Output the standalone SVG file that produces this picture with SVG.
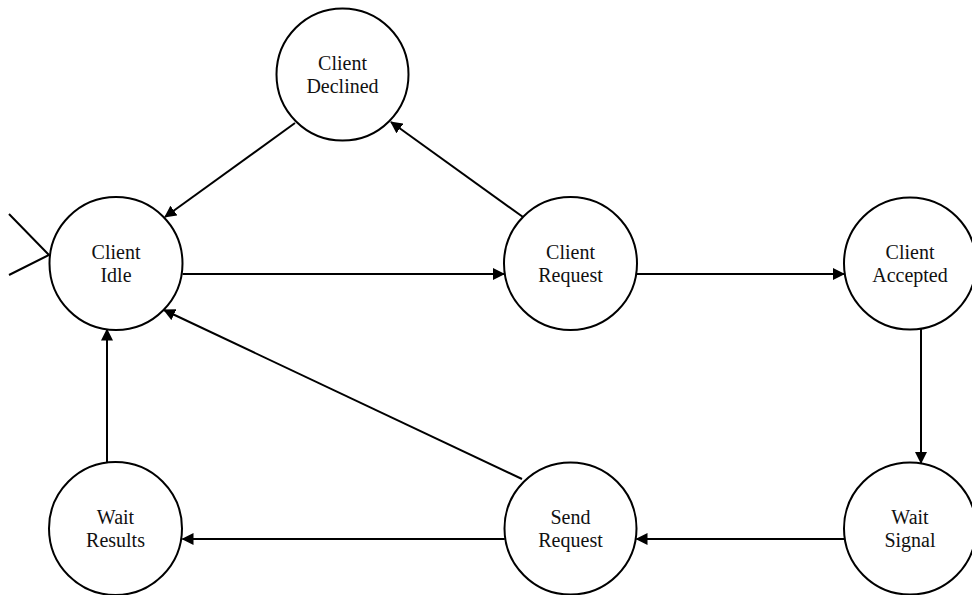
<svg xmlns="http://www.w3.org/2000/svg" width="972" height="595" viewBox="0 0 972 595">
<style>
.node circle{fill:#fff;stroke:#000;stroke-width:2}
.node text{font-family:"Liberation Serif","Times New Roman",serif;font-size:20px;fill:#111;text-anchor:middle}
.conn line,.conn polyline{stroke:#000;stroke-width:2;fill:none}
.conn .arr{marker-end:url(#ah)}
</style>
<defs>
<marker id="ah" markerUnits="userSpaceOnUse" markerWidth="12" markerHeight="12" refX="11" refY="6" orient="auto">
<path d="M0,0 L12,6 L0,12 z" fill="#000"/>
</marker>
</defs>
<rect width="972" height="595" fill="#fff"/>
<g id="connectors" class="conn">
<polyline points="9,214 49,255 9,275"/>
<line class="arr" x1="182.5" y1="274" x2="504" y2="274"/>
<line class="arr" x1="637" y1="274" x2="844" y2="274"/>
<line class="arr" x1="921" y1="328.6" x2="921" y2="463"/>
<line class="arr" x1="844.8" y1="539" x2="636.5" y2="539"/>
<line class="arr" x1="504.8" y1="539" x2="182.5" y2="539"/>
<line class="arr" x1="107" y1="463" x2="107" y2="329.5"/>
<line class="arr" x1="522" y1="479" x2="164" y2="310"/>
<line class="arr" x1="523" y1="217" x2="391" y2="122"/>
<line class="arr" x1="295" y1="123" x2="165" y2="217"/>
</g>
<g id="client-declined" class="node">
<circle cx="342.5" cy="74.5" r="66"/>
<text x="342.5" y="69.5">Client</text>
<text x="342.5" y="92.5">Declined</text>
</g>
<g id="client-idle" class="node">
<circle cx="116" cy="263.5" r="66.5"/>
<text x="116" y="258.5">Client</text>
<text x="116" y="281.5">Idle</text>
</g>
<g id="client-request" class="node">
<circle cx="570.5" cy="263.5" r="66.5"/>
<text x="570.5" y="258.5">Client</text>
<text x="570.5" y="281.5">Request</text>
</g>
<g id="client-accepted" class="node">
<circle cx="910" cy="263.5" r="66"/>
<text x="910" y="258.5">Client</text>
<text x="910" y="281.5">Accepted</text>
</g>
<g id="wait-signal" class="node">
<circle cx="910" cy="528.5" r="66"/>
<text x="910" y="523.5">Wait</text>
<text x="910" y="546.5">Signal</text>
</g>
<g id="send-request" class="node">
<circle cx="570.5" cy="528.5" r="66"/>
<text x="570.5" y="523.5">Send</text>
<text x="570.5" y="546.5">Request</text>
</g>
<g id="wait-results" class="node">
<circle cx="115.5" cy="528.5" r="66.5"/>
<text x="115.5" y="523.5">Wait</text>
<text x="115.5" y="546.5">Results</text>
</g>
</svg>
